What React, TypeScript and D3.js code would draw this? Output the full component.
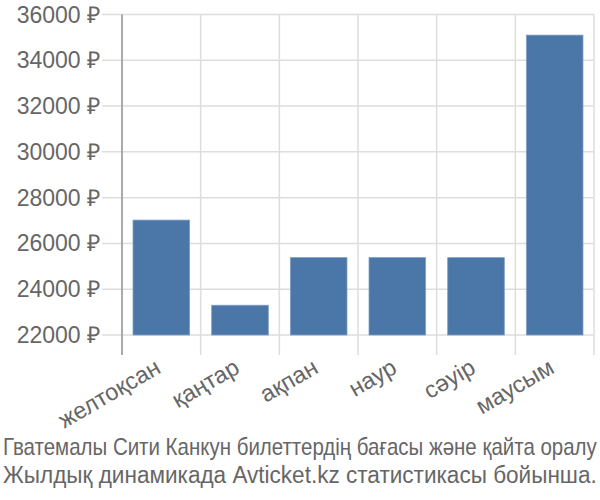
import React, { useLayoutEffect, useRef, useState } from "react";
import * as d3 from "d3";

const categories = ["желтоқсан", "қаңтар", "ақпан", "наур", "сәуір", "маусым"];
const prices = [27020, 23300, 25380, 25380, 25380, 35100];
const yTicks = [22000, 24000, 26000, 28000, 30000, 32000, 34000, 36000];
const titleLines = [
  "Гватемалы Сити Канкун билеттердің бағасы және қайта оралу",
  "Жылдық динамикада Avticket.kz статистикасы бойынша.",
];

const W = 600;
const H = 500;
const left = 122;
const right = 594;
const top = 14.5;
const bottom = 335;
const titleWidth = 594;

export default function App() {
  const x = d3.scaleBand<string>().domain(categories).range([left, right]).paddingInner(0.28).paddingOuter(0.14);
  const y = d3.scaleLinear().domain([22000, 36000]).range([bottom, top]);
  const step = x.step();
  const bounds = d3.range(categories.length + 1).map((i) => left + i * step);
  const textColor = "#666";
  const font = "'Liberation Sans', Arial, sans-serif";

  const titleRefs = useRef<(SVGTextElement | null)[]>([]);
  const [scales, setScales] = useState<number[]>(titleLines.map(() => 0.87));
  useLayoutEffect(() => {
    const s = titleLines.map((_, i) => {
      const el = titleRefs.current[i];
      if (!el) return 0.87;
      const w = el.getComputedTextLength();
      return w > 0 ? titleWidth / w : 0.87;
    });
    setScales(s);
  }, []);

  return (
    <svg width={W} height={H} style={{ position: "absolute", left: 0, top: 0, background: "#fff" }}>
      {yTicks.map((t) => (
        <line key={"h" + t} x1={102} x2={right} y1={y(t)} y2={y(t)} stroke="#ddd" strokeWidth={1.5} />
      ))}
      {bounds.map((b, i) => (
        <line key={"v" + i} x1={b} x2={b} y1={top} y2={355} stroke={i === 0 ? "#aaa" : "#ddd"} strokeWidth={i === 0 ? 2 : 1.5} />
      ))}
      {categories.map((c, i) => (
        <rect
          key={c}
          x={x(c)}
          y={y(prices[i])}
          width={x.bandwidth()}
          height={bottom - y(prices[i])}
          fill="#4a77a8"
          stroke="#7f9fc6"
          strokeWidth={0.8}
        />
      ))}
      {yTicks.map((t) => (
        <text
          key={"yl" + t}
          x={100}
          y={y(t)}
          dy="0.35em"
          textAnchor="end"
          fontSize={23}
          fill={textColor}
          fontFamily={font}
        >
          {t + " ₽"}
        </text>
      ))}
      {categories.map((c) => {
        const cx = (x(c) as number) + x.bandwidth() / 2 + 1;
        const cy = 372;
        return (
          <text
            key={"xl" + c}
            x={cx}
            y={cy}
            textAnchor="end"
            transform={`rotate(-30, ${cx}, ${cy})`}
            fontSize={23.5}
            fill={textColor}
            fontFamily={font}
          >
            {c}
          </text>
        );
      })}
      {titleLines.map((l, i) => (
        <g key={"t" + i} transform={`translate(3, ${455 + i * 28}) scale(${scales[i]}, 1)`}>
          <text
            ref={(el) => {
              titleRefs.current[i] = el;
            }}
            x={0}
            y={0}
            fontSize={23}
            fill={textColor}
            fontFamily={font}
          >
            {l}
          </text>
        </g>
      ))}
    </svg>
  );
}
